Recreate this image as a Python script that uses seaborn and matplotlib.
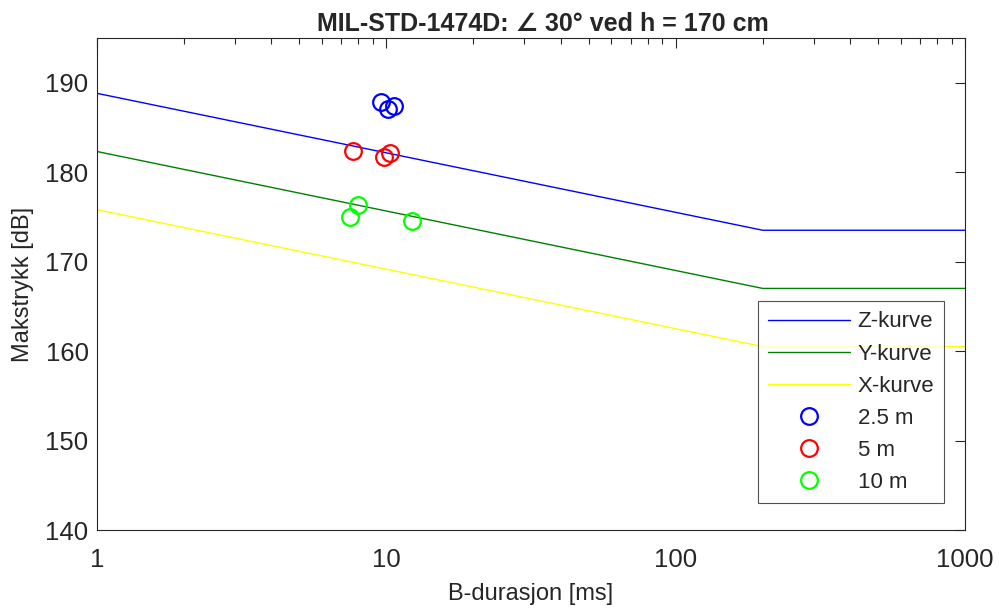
import numpy as np
import pandas as pd
import matplotlib
matplotlib.use("Agg")
import matplotlib.pyplot as plt
import seaborn as sns

# grensekurver (MIL-STD-1474D), knekkpunkt ved 200 ms
curve_x = [1, 200, 1000]
z_curve = [188.8, 173.5, 173.5]
y_curve = [182.3, 167.0, 167.0]
x_curve = [175.8, 160.5, 160.5]

# malte punkter: B-durasjon [ms] og makstrykk [dB]
b_25 = [9.6, 10.1, 10.6]
p_25 = [187.8, 187.0, 187.4]
b_5 = [7.7, 9.8, 10.3]
p_5 = [182.4, 181.7, 182.1]
b_10 = [7.5, 8.0, 12.3]
p_10 = [175.0, 176.3, 174.5]

sns.set_style("white")
plt.rcParams['font.family'] = ['Liberation Sans', 'DejaVu Sans']

fig = plt.figure(figsize=(9.99, 6.10), dpi=100)
ax = fig.add_axes([0.097, 0.131, 0.869, 0.807])

curves = pd.DataFrame({"x": curve_x, "Z": z_curve, "Y": y_curve, "X": x_curve})
sns.lineplot(data=curves, x="x", y="Z", color=(0, 0, 1), lw=1.0, label="Z-kurve", ax=ax)
sns.lineplot(data=curves, x="x", y="Y", color=(0, 0.5, 0), lw=1.0, label="Y-kurve", ax=ax)
sns.lineplot(data=curves, x="x", y="X", color=(1, 1, 0), lw=1.0, label="X-kurve", ax=ax)

for bx, py, col, lab in [(b_25, p_25, (0, 0, 1), "2.5 m"),
                         (b_5, p_5, (1, 0, 0), "5 m"),
                         (b_10, p_10, (0, 1, 0), "10 m")]:
    sns.lineplot(x=bx, y=py, ax=ax, linestyle="", marker="o", markersize=12,
                 markerfacecolor="none", markeredgecolor=col, markeredgewidth=1.6,
                 color=col, label=lab, sort=False)

ax.set_xscale("log")
ax.set_xlim(1, 1000)
ax.set_ylim(140, 195)
ax.set_yticks([140, 150, 160, 170, 180, 190])
ax.set_xticks([1, 10, 100, 1000])
ax.set_xticklabels(["1", "10", "100", "1000"])

ax.tick_params(which="both", direction="in", top=True, right=True,
               labelsize=18.5, colors="#262626", pad=6)
ax.tick_params(axis="x", which="major", pad=13)
ax.tick_params(which="major", length=7, width=0.8)
ax.tick_params(which="minor", length=4, width=0.8)
for s in ax.spines.values():
    s.set_color("#262626")
    s.set_linewidth(0.8)

ax.set_xlabel("B-durasjon [ms]", fontsize=17, color="#262626", labelpad=8)
ax.set_ylabel("Makstrykk [dB]", fontsize=17, color="#262626", labelpad=8)
ax.set_title("MIL-STD-1474D: ∠ 30° ved h = 170 cm", fontsize=18, fontweight="bold",
             family=['Liberation Sans', 'DejaVu Sans'], pad=5, x=0.514)

leg = ax.legend(loc="lower right", bbox_to_anchor=(0.976, 0.055), borderaxespad=0,
                fontsize=16, handlelength=3.7, handletextpad=0.35,
                frameon=True, fancybox=False, edgecolor="#262626",
                labelspacing=0.5, borderpad=0.45)
leg.get_frame().set_linewidth(0.8)

fig.savefig("out.png", dpi=100)
